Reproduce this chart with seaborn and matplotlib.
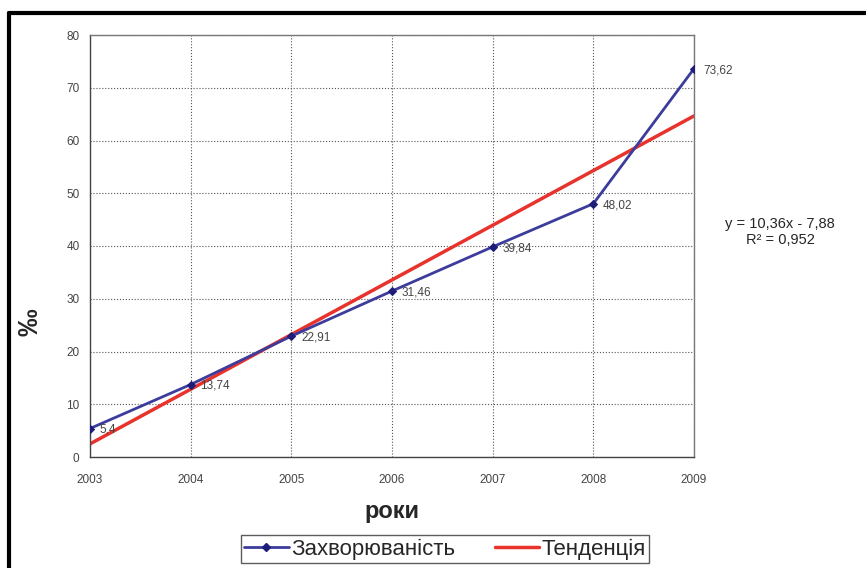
import matplotlib
matplotlib.use("Agg")
import matplotlib.pyplot as plt
import seaborn as sns
from matplotlib.lines import Line2D

years = [2003, 2004, 2005, 2006, 2007, 2008, 2009]
incidence = [5.4, 13.74, 22.91, 31.46, 39.84, 48.02, 73.62]
labels = ["5,4", "13,74", "22,91", "31,46", "39,84", "48,02", "73,62"]
y_ticks = [0, 10, 20, 30, 40, 50, 60, 70, 80]

sns.set_style("white")
plt.rcParams['font.family'] = ['Liberation Sans', 'DejaVu Sans']

fig = plt.figure(figsize=(8.66, 5.68), dpi=100)
ax = fig.add_axes([90 / 866, 1 - 457 / 568, 604 / 866, 422 / 568])

blue = "#3c3c9c"
red = "#e8322c"

sns.regplot(x=years, y=incidence, ci=None, scatter=False, ax=ax,
            line_kws={"color": red, "lw": 2.5, "zorder": 2})
sns.lineplot(x=years, y=incidence, ax=ax, color=blue, lw=2,
             marker="D", markersize=4.5, markeredgecolor="#1e1e7a",
             markerfacecolor="#1e1e7a", zorder=3)

for x, y, t in zip(years, incidence, labels):
    ax.annotate(t, (x, y), xytext=(7, -1), textcoords="offset points",
                fontsize=8.5, color="#444444", va="center", ha="left")

ax.set_xlim(2003, 2009)
ax.set_ylim(0, 80)
ax.set_yticks(y_ticks)
ax.set_xticks(years)
ax.tick_params(axis="both", labelsize=8.5, labelcolor="#444444", length=4,
               color="#555555", direction="out")
ax.tick_params(axis="x", pad=8)
ax.grid(True, color="#555555", ls=":", lw=0.8)
for s in ax.spines.values():
    s.set_color("#777777")
    s.set_linewidth(1)
ax.spines["left"].set_color("#444444")
ax.spines["bottom"].set_color("#444444")

ax.set_xlabel("роки", fontsize=17, fontweight="bold", labelpad=10)
fig.text(30 / 866, 1 - 322 / 568, "‰", fontsize=20, fontweight="bold",
         rotation=90, ha="center", va="center")

fig.text(780 / 866, 1 - 232 / 568, "y = 10,36x - 7,88\nR² = 0,952",
         fontsize=10.5, ha="center", va="center", linespacing=1.1)

handles = [
    Line2D([], [], color=blue, lw=2, marker="D", markersize=4.5,
           markerfacecolor="#1e1e7a", markeredgecolor="#1e1e7a"),
    Line2D([], [], color=red, lw=2.5),
]
leg = fig.legend(handles, ["Захворюваність", "Тенденція"], loc="center",
                 bbox_to_anchor=(445 / 866, 1 - 549 / 568), ncol=2,
                 fontsize=16, frameon=True, fancybox=False,
                 handlelength=2.0, handletextpad=0.1, columnspacing=1.8,
                 borderpad=0.15)
leg.get_frame().set_edgecolor("#333333")
leg.get_frame().set_linewidth(1)

# outer chart frame (only the left and top edges are visible)
fig.add_artist(Line2D([9 / 866, 9 / 866], [0, 1 - 13 / 568], color="black", lw=3,
                      transform=fig.transFigure))
fig.add_artist(Line2D([9 / 866, 1], [1 - 13 / 568, 1 - 13 / 568], color="black", lw=3,
                      transform=fig.transFigure))

fig.savefig("out.png", dpi=100)
